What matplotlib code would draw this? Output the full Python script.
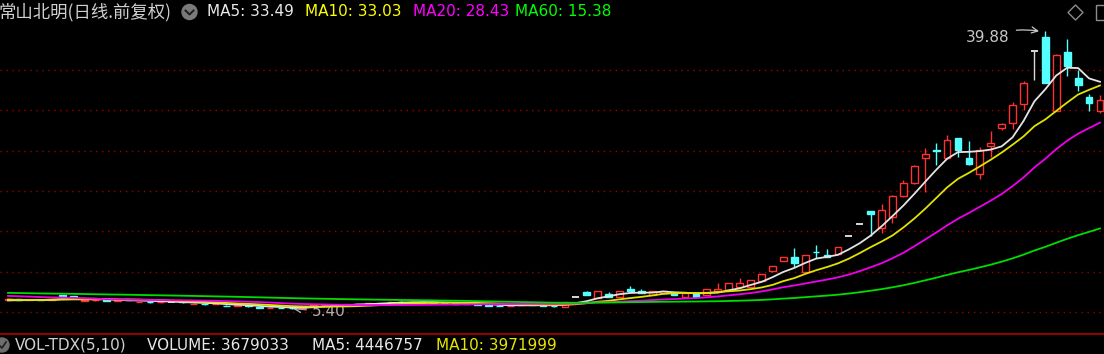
import numpy as np
import pandas as pd
import matplotlib
matplotlib.use('Agg')
import matplotlib.pyplot as plt
from matplotlib.patches import Rectangle, Circle, Polygon

plt.rcParams['font.family'] = ['DejaVu Sans']

# closes before the visible window (only used for the moving averages)
prev_close = [7.92, 7.88, 7.95, 7.85, 7.80, 7.83, 7.78, 7.90, 7.86, 7.75,
              7.70, 7.72, 7.65, 7.68, 7.60, 7.62, 7.58, 7.66, 7.55, 7.52,
              7.50, 7.56, 7.48, 7.45, 7.52, 7.40, 7.42, 7.38, 7.45, 7.35,
              7.40, 7.32, 7.36, 7.30, 7.38, 7.28, 7.33, 7.25, 7.30, 7.22,
              7.40, 7.55, 7.48, 7.50, 7.42, 7.46, 7.38, 7.52, 7.44, 7.35,
              6.90, 6.72, 6.60, 6.55, 6.48, 6.40, 6.45, 6.38, 6.42]

opens = [6.50, 6.56, 6.50, 6.53, 6.48, 7.10, 7.00, 6.35, 6.44, 6.46,
         6.42, 6.50, 6.20, 6.27, 6.19, 6.22, 6.21, 5.98, 6.02, 5.96,
         5.80, 5.76, 5.82, 5.60, 5.52, 5.54, 5.48, 5.46, 5.78, 5.86,
         5.92, 5.88, 5.96, 6.05, 6.10, 6.18, 6.30, 6.22, 6.26, 6.20,
         6.15, 6.10, 6.05, 5.98, 5.85, 5.80, 5.75, 5.85, 5.96, 5.90,
         5.80, 5.66, 6.82, 7.44, 6.70, 7.23, 6.90, 7.81, 7.60, 7.10,
         7.35, 7.32, 6.90, 7.19, 7.11, 7.60, 7.73, 8.14, 8.14, 8.88,
         10.08, 11.36, 11.85, 10.00, 12.50, 12.10, 12.19, 14.40, 15.90, 17.50,
         15.37, 16.73, 19.37, 20.95, 24.05, 25.10, 24.05, 26.52, 24.12, 22.10,
         25.57, 27.80, 28.40, 30.75, 37.30, 39.04, 29.94, 37.18, 34.03, 31.68,
         29.94]
closes = [6.55, 6.50, 6.52, 6.48, 6.60, 7.02, 6.70, 6.43, 6.45, 6.42,
          6.50, 6.49, 6.28, 6.20, 6.25, 6.22, 6.18, 6.03, 5.95, 5.98,
          5.74, 5.83, 5.70, 5.53, 5.55, 5.50, 5.45, 5.60, 5.87, 5.90,
          5.88, 5.95, 6.05, 6.10, 6.15, 6.30, 6.22, 6.25, 6.20, 6.15,
          6.10, 6.05, 6.00, 5.85, 5.80, 5.75, 5.78, 5.95, 5.90, 5.80,
          5.70, 6.28, 6.82, 7.11, 7.60, 6.90, 7.60, 7.60, 7.32, 7.60,
          7.60, 7.11, 7.32, 6.90, 7.81, 7.85, 8.56, 8.56, 8.97, 9.71,
          10.74, 11.85, 11.03, 12.06, 12.40, 11.85, 13.09, 14.40, 15.90, 17.10,
          17.64, 19.41, 20.95, 23.13, 24.60, 25.00, 26.30, 25.07, 23.30, 25.10,
          25.90, 28.30, 30.70, 33.40, 37.30, 33.40, 36.80, 35.50, 33.20, 30.90,
          31.30]
highs = [6.58, 6.60, 6.55, 6.56, 6.63, 7.15, 7.02, 6.46, 6.50, 6.48,
         6.52, 6.53, 6.30, 6.29, 6.27, 6.25, 6.23, 6.06, 6.04, 6.01,
         5.82, 5.85, 5.84, 5.62, 5.58, 5.56, 5.50, 5.62, 5.90, 5.93,
         5.95, 5.98, 6.08, 6.13, 6.18, 6.33, 6.35, 6.28, 6.29, 6.22,
         6.17, 6.12, 6.07, 6.00, 5.88, 5.83, 5.80, 5.98, 5.99, 5.92,
         5.82, 6.30, 6.82, 7.64, 7.62, 7.44, 7.62, 8.22, 7.81, 7.62,
         7.64, 7.34, 7.34, 7.21, 7.83, 8.60, 8.58, 9.18, 8.99, 9.73,
         10.76, 11.87, 12.97, 12.08, 13.30, 12.77, 13.11, 14.40, 15.90, 17.55,
         18.35, 19.45, 21.36, 23.20, 25.28, 26.00, 26.93, 26.55, 26.20, 25.40,
         27.47, 28.45, 31.06, 33.60, 37.35, 39.88, 36.95, 38.83, 34.98, 32.01,
         31.90]
lows = [6.48, 6.47, 6.46, 6.45, 6.46, 6.95, 6.68, 6.32, 6.40, 6.38,
        6.40, 6.45, 6.18, 6.17, 6.16, 6.19, 6.15, 5.96, 5.92, 5.93,
        5.72, 5.74, 5.68, 5.50, 5.49, 5.46, 5.40, 5.44, 5.75, 5.83,
        5.85, 5.86, 5.94, 6.02, 6.08, 6.16, 6.20, 6.19, 6.18, 6.12,
        6.07, 6.02, 5.97, 5.83, 5.77, 5.72, 5.72, 5.83, 5.87, 5.77,
        5.66, 5.64, 6.82, 7.08, 6.68, 6.88, 6.88, 7.58, 7.30, 7.08,
        7.33, 7.09, 6.88, 6.88, 7.09, 7.58, 7.71, 8.12, 8.12, 8.86,
        9.90, 11.34, 10.61, 9.98, 11.65, 11.80, 12.17, 14.40, 15.90, 14.40,
        14.83, 16.00, 19.20, 20.90, 19.90, 23.20, 24.00, 24.24, 23.20, 21.48,
        24.24, 27.50, 27.70, 30.00, 33.80, 33.35, 29.90, 34.24, 32.42, 29.94,
        29.70]

ma_days = [5, 10, 20, 60]
ma_colors = ['#e4e4e4', '#e2e200', '#ee00ee', '#00dd00']

header_name = '常山北明(日线.前复权)'
ma_labels = ['MA5: 33.49', 'MA10: 33.03', 'MA20: 28.43', 'MA60: 15.38']
vol_labels = ['VOL-TDX(5,10)', 'VOLUME: 3679033', 'MA5: 4446757', 'MA10: 3971999']
vol_colors = ['#d0d0d0', '#e8e8e8', '#e8e8e8', '#e6e600']

high_label = '39.88'
low_label = '5.40'

up = '#ff3232'
down = '#54ffff'
flat = '#d8d8d8'

W, H = 1104, 354
fig = plt.figure(figsize=(W / 100, H / 100), dpi=100, facecolor='black')

# price panel
ax = fig.add_axes([0, 21 / H, 1, 313 / H])
ax.set_facecolor('black')
ax.set_xlim(-0.733, 100.37)
ax.set_ylim(2.397, 41.198)
for s in ax.spines.values():
    s.set_visible(False)
ax.set_xticks([])
ax.set_yticks([])

for p in [5, 10, 15, 20, 25, 30, 35]:
    ax.axhline(p, color='#9a0000', lw=1.0, dashes=(1, 3.3), zorder=0)

n = len(closes)
w = 0.62
for i in range(n):
    o, c, h, l = opens[i], closes[i], highs[i], lows[i]
    if c > o:
        ax.vlines(i, c, h, color=up, lw=1, zorder=2)
        ax.vlines(i, l, o, color=up, lw=1, zorder=2)
        ax.add_patch(Rectangle((i - w / 2, o), w, c - o, facecolor='black',
                               edgecolor=up, lw=1, zorder=3))
    elif c < o:
        ax.vlines(i, l, h, color=down, lw=1, zorder=2)
        ax.add_patch(Rectangle((i - w / 2, c), w, o - c, facecolor=down,
                               edgecolor=down, lw=1, zorder=3))
    else:
        ax.vlines(i, l, h, color=flat, lw=1, zorder=2)
        ax.hlines(c, i - w / 2, i + w / 2, color=flat, lw=1.4, zorder=3)

all_close = pd.Series(prev_close + closes)
x = np.arange(n)
for d, col in zip(ma_days, ma_colors):
    ma = all_close.rolling(d).mean().values[-n:]
    ax.plot(x, ma, color=col, lw=1.3, zorder=4)

# max / min markers
imax = int(np.argmax(highs))
imin = int(np.argmin(lows))
ax.annotate(high_label, xy=(imax - 0.45, highs[imax] - 0.1), xytext=(-31, -6),
            textcoords='offset pixels', ha='right', va='center',
            color='#c8c8c8', fontsize=11,
            arrowprops=dict(arrowstyle='->', color='#c8c8c8', lw=0.9,
                            shrinkA=3, shrinkB=1,
                            connectionstyle='arc3,rad=-0.15'), zorder=6)
ax.annotate(low_label, xy=(imin, lows[imin]), xytext=(20, -2.5),
            textcoords='offset pixels', ha='left', va='center',
            color='#b0b0b0', fontsize=11,
            arrowprops=dict(arrowstyle='->', color='#b0b0b0', lw=0.9,
                            shrinkA=2, shrinkB=1), zorder=1)

# overlay in pixel coordinates for header / footer
ov = fig.add_axes([0, 0, 1, 1])
ov.set_xlim(0, W)
ov.set_ylim(H, 0)
ov.axis('off')
ov.patch.set_alpha(0)

ov.text(-2, 12, header_name, color='#d0d0d0', fontsize=12.5, va='center',
        family=['Noto Sans CJK SC', 'DejaVu Sans'])
ov.add_patch(Circle((189.5, 12), 7.5, color='#7a7a7a'))
ov.plot([185.5, 189.5, 193.5], [10.5, 14.5, 10.5], color='#1e1e1e', lw=1.4)

label_x = [207, 305, 413, 515]
label_c = ['#e8e8e8', '#ffff00', '#ff00ff', '#00ff00']
for lx, txt, col in zip(label_x, ma_labels, label_c):
    ov.text(lx, 12, txt, color=col, fontsize=11, va='center')

# top-right icons
ov.add_patch(Polygon([(1075.5, 5), (1083, 12.5), (1075.5, 20), (1068, 12.5)],
                     closed=True, fill=False, edgecolor='#8c8c8c', lw=1))
ov.add_patch(Rectangle((1096, 5), 14, 15, fill=False, edgecolor='#8c8c8c', lw=1))

# footer
ov.plot([0, W], [333.5, 333.5], color='#b00000', lw=1.2)
ov.add_patch(Circle((2, 345), 7, color='#6e6e6e'))
ov.plot([-1, 2, 6], [345, 348, 342], color='#1e1e1e', lw=1.2)
vol_x = [15, 147, 312, 436]
for vx, txt, col in zip(vol_x, vol_labels, vol_colors):
    ov.text(vx, 345, txt, color=col, fontsize=11, va='center')

fig.savefig('out.png', dpi=100, facecolor='black')
